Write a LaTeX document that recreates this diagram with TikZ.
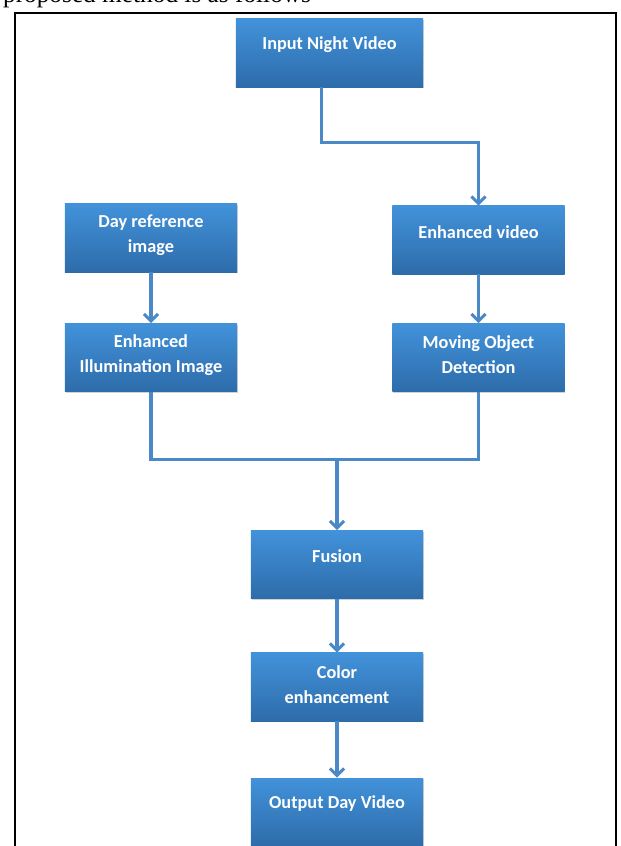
\documentclass[tikz,border=0pt]{standalone}
\usepackage{fontspec}
\newfontfamily\boxfont{Carlito}
\newfontfamily\docfont{Liberation Serif}
\usetikzlibrary{arrows.meta,shadows,calc}
\definecolor{boxtop}{RGB}{66,146,218}
\definecolor{boxbot}{RGB}{45,108,170}
\definecolor{flowline}{RGB}{74,136,199}
\tikzset{
  blk/.style={rectangle, inner sep=0pt, minimum width=4.3cm, minimum height=1.7cm,
    top color=boxtop, bottom color=boxbot,
    drop shadow={shadow xshift=0.6pt, shadow yshift=-0.8pt, opacity=0.35}},
  lbl/.style={text=white, align=center, font=\boxfont\bfseries\fontsize{13}{17.8}\selectfont},
  ln/.style={draw=flowline, line width=2.2pt}
}
\begin{document}
\begin{tikzpicture}[>={Straight Barb[length=5pt,width=10pt]}, x=0.025cm, y=-0.025cm]
    \clip (0,0) rectangle (620,846);
    \fill[white] (0,0) rectangle (620,846);
    \node[anchor=base east, font=\docfont\fontsize{18}{20}\selectfont] (cap) at (316,3) {proposed method is as follows};
    \draw[line width=1.5pt] (15,880)--(15,13)--(616,13)--(616,880);
    % boxes
    \node[blk, minimum width=4.675cm] (inp) at (329.5,53) {};
    \node[blk] (day) at (151,238) {};
    \node[blk] (env) at (478.5,240) {};
    \node[blk] (ill) at (151,357.5) {};
    \node[blk] (mod) at (478.5,357.5) {};
    \node[blk] (fus) at (337,564.5) {};
    \node[blk] (col) at (337,687) {};
    \node[blk] (out) at (337,812) {};
    % texts
    \node[lbl] at ([yshift=-0.65cm]inp.north) {Input Night Video};
    \node[lbl] at ([yshift=-0.79cm]day.north) {Day reference\\image};
    \node[lbl] at ([yshift=-0.65cm]env.north) {Enhanced video};
    \node[lbl] at ([yshift=-0.79cm]ill.north) {Enhanced\\Illumination Image};
    \node[lbl] at ([yshift=-0.79cm]mod.north) {Moving Object\\Detection};
    \node[lbl] at ([yshift=-0.65cm]fus.north) {Fusion};
    \node[lbl] at ([yshift=-0.79cm]col.north) {Color\\enhancement};
    \node[lbl] at ([yshift=-0.65cm]out.north) {Output Day Video};
    % connectors
    \draw[ln,->] ([xshift=-0.19cm]inp.south)--++(0,55)-|(env.north);
    \draw[ln,->] (day)--(ill);
    \draw[ln,->] (env)--(mod);
    \draw[ln] (ill.south)--++(0,68) coordinate (jn)-|(mod.south);
    \draw[ln,->] (jn -| fus.north)--(fus.north);
    \draw[ln,->] (fus)--(col);
    \draw[ln,->] (col)--(out);
\end{tikzpicture}
\end{document}
